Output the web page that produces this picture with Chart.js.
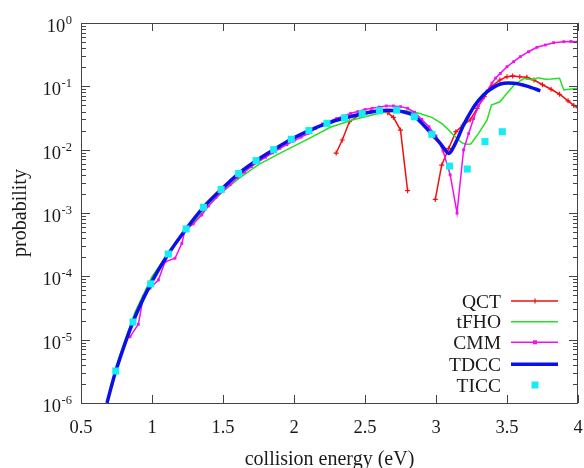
<!DOCTYPE html>
<html>
<head>
<meta charset="utf-8">
<script src="https://cdn.jsdelivr.net/npm/chart.js@4/dist/chart.umd.min.js"></script>
<style>
  html, body { margin: 0; padding: 0; background: #fff; }
  canvas { display: block; }
</style>
</head>
<body>
<canvas id="chart" width="584" height="468"></canvas>
<script>
const SERIF = '"Liberation Serif", "DejaVu Serif", serif';
const TEXT = '#1a1a1a';
const FRAME = '#444';

const COLORS = {
    QCT:  '#f01010',
    tFHO: '#22e022',
    CMM:  '#f010f0',
    TDCC: '#0a10e8',
    TICC: '#14eef2',
};

// tick values
const X_TICKS = [0.5, 1, 1.5, 2, 2.5, 3, 3.5, 4];
const Y_DECADES = [-6, -5, -4, -3, -2, -1, 0];

// QCT (null splits the two branches)
const qctE = [2.297, 2.34, 2.39, 2.46, 2.54, 2.61, 2.66, 2.70, 2.75, 2.80, 2.90,
    2.995, 3.04, 3.09, 3.14, 3.19, 3.24, 3.29, 3.34, 3.39, 3.45, 3.50, 3.54, 3.59,
    3.64, 3.69, 3.75, 3.81, 3.87, 3.93, 3.97, 4.0];
const qctP = [0.00885, 0.0142, 0.0277, 0.0353, 0.0398, 0.0423, 0.0384, 0.0324, 0.0204, 0.00225, null,
    0.00164, 0.0057, 0.0105, 0.0192, 0.0245, 0.0294, 0.045, 0.0686, 0.0986, 0.126, 0.142, 0.146, 0.142,
    0.139, 0.126, 0.106, 0.090, 0.075, 0.059, 0.050, 0.046];

// tFHO
const fhoE = [0.72, 0.75, 0.88, 1.0, 1.12, 1.25, 1.375, 1.5, 1.625, 1.75, 1.875, 2.0, 2.125,
    2.255, 2.41, 2.55, 2.65, 2.79, 2.88, 2.97, 3.04, 3.09, 3.11, 3.18, 3.21, 3.245, 3.30,
    3.36, 3.39, 3.45, 3.49, 3.55, 3.62, 3.68, 3.72, 3.77, 3.81, 3.87, 3.90, 3.94, 4.0];
const fhoP = [1.8e-6, 3.9e-6, 2.7e-5, 9.9e-5, 2.4e-4, 5.6e-4, 1.15e-3, 2.2e-3, 3.7e-3, 5.8e-3, 8.2e-3, 0.0114, 0.0158,
    0.0226, 0.0294, 0.0353, 0.0398, 0.0412, 0.0375, 0.0324, 0.026, 0.0204, 0.0181, 0.0129, 0.0122, 0.0123, 0.0181,
    0.0294, 0.0507, 0.057, 0.073, 0.105, 0.134, 0.126, 0.137, 0.129, 0.130, 0.134, 0.0875, 0.090, 0.093];

// CMM
const cmmE = [0.845, 0.904, 0.939, 0.986, 1.045, 1.092, 1.162, 1.21, 1.233, 1.29, 1.35, 1.397,
    1.45, 1.5, 1.55, 1.6, 1.65, 1.7, 1.75, 1.8, 1.85, 1.9, 1.95, 2.0, 2.05, 2.1, 2.15, 2.2,
    2.25, 2.3, 2.35, 2.4, 2.45, 2.5, 2.55, 2.6, 2.65, 2.7, 2.75, 2.8, 2.85, 2.9, 2.95, 3.0,
    3.05, 3.1, 3.148, 3.194, 3.23, 3.265, 3.3, 3.324, 3.36, 3.394, 3.42, 3.453, 3.5, 3.547,
    3.594, 3.652, 3.711, 3.77, 3.828, 3.9, 3.95, 4.0];
const cmmP = [1.11e-5, 1.75e-5, 4.8e-5, 6.5e-5, 8.75e-5, 1.7e-4, 1.93e-4, 3.3e-4, 5.4e-4, 6.7e-4, 9.3e-4, 1.29e-3,
    1.75e-3, 2.2e-3, 2.8e-3, 3.6e-3, 4.4e-3, 5.4e-3, 6.4e-3, 7.6e-3, 8.9e-3, 0.0105, 0.012, 0.0138, 0.0158, 0.018, 0.0215, 0.0255,
    0.028, 0.031, 0.034, 0.0375, 0.040, 0.043, 0.045, 0.047, 0.049, 0.049, 0.0478, 0.045, 0.039, 0.030, 0.023, 0.0165,
    0.0095, 0.004, 0.001, 0.0099, 0.018, 0.031, 0.050, 0.061, 0.085, 0.112, 0.135, 0.16, 0.204, 0.245,
    0.294, 0.352, 0.413, 0.45, 0.489, 0.507, 0.51, 0.507];

// TDCC
const tdccE = [0.683, 0.745, 0.866, 0.991, 1.115, 1.24, 1.362, 1.487, 1.61, 1.733, 1.857, 1.981,
    2.105, 2.232, 2.356, 2.48, 2.602, 2.66, 2.723, 2.78, 2.84, 2.912, 2.971, 3.03, 3.065, 3.088,
    3.112, 3.148, 3.194, 3.253, 3.30, 3.359, 3.453, 3.547, 3.641, 3.735];
const tdccP = [1.0e-6, 3.2e-6, 1.9e-5, 7.6e-5, 2.25e-4, 5.6e-4, 1.23e-3, 2.35e-3, 4.2e-3, 6.7e-3, 0.010, 0.0146,
    0.020, 0.026, 0.0316, 0.037, 0.0412, 0.0418, 0.041, 0.039, 0.035, 0.0245, 0.0175, 0.0126, 0.0099, 0.0087,
    0.0099, 0.0142, 0.0245, 0.0425, 0.060, 0.082, 0.109, 0.112, 0.101, 0.085];

// TICC
const ticcE = [0.745, 0.866, 0.991, 1.115, 1.24, 1.362, 1.487, 1.61, 1.733, 1.857, 1.981, 2.105,
    2.232, 2.356, 2.48, 2.602, 2.723, 2.847, 2.971, 3.095, 3.22, 3.345, 3.467];
const ticcP = [3.2e-6, 1.9e-5, 7.6e-5, 2.25e-4, 5.6e-4, 1.23e-3, 2.35e-3, 4.2e-3, 6.7e-3, 0.010, 0.0146, 0.020,
    0.026, 0.0316, 0.037, 0.0412, 0.042, 0.033, 0.0175, 0.0055, 0.00495, 0.0134, 0.0192];

const pts = (xs, ys) => xs.map((x, i) => ({ x, y: ys[i] }));

// frame, inside ticks, superscript y labels, legend
const decorPlugin = {
    id: 'decor',
    afterDraw(chart) {
        const ctx = chart.ctx;
        const a = chart.chartArea;
        const xs = chart.scales.x;
        const ys = chart.scales.y;
        ctx.save();
        ctx.strokeStyle = FRAME;
        ctx.lineWidth = 1;
        ctx.strokeRect(a.left + 0.5, a.top + 0.5, a.right - a.left - 1, a.bottom - a.top);

        ctx.beginPath();
        X_TICKS.forEach(v => {
            const px = Math.round(xs.getPixelForValue(v)) + 0.5;
            ctx.moveTo(px, a.bottom); ctx.lineTo(px, a.bottom - 8);
            ctx.moveTo(px, a.top); ctx.lineTo(px, a.top + 8);
        });
        Y_DECADES.forEach(k => {
            for (let m = 1; m <= 9; m++) {
                if (k === 0 && m > 1) break;
                const py = Math.round(ys.getPixelForValue(m * Math.pow(10, k))) + 0.5;
                const len = m === 1 ? 9 : 5;
                ctx.moveTo(a.left, py); ctx.lineTo(a.left + len, py);
                ctx.moveTo(a.right, py); ctx.lineTo(a.right - len, py);
            }
        });
        ctx.stroke();

        // y labels 10^k
        ctx.fillStyle = TEXT;
        ctx.textBaseline = 'alphabetic';
        ctx.textAlign = 'right';
        Y_DECADES.forEach(k => {
            const py = ys.getPixelForValue(Math.pow(10, k));
            const exp = String(k);
            ctx.font = '12.5px ' + SERIF;
            const ew = ctx.measureText(exp).width;
            ctx.fillText(exp, 72, py + 1);
            ctx.font = '18.5px ' + SERIF;
            ctx.fillText('10', 72 - ew - 0.5, py + 9);
        });

        // legend
        const items = [
            { label: 'QCT', y: 301, color: COLORS.QCT, w: 1.5, mark: 'cross' },
            { label: 'tFHO', y: 321.7, color: COLORS.tFHO, w: 1.5 },
            { label: 'CMM', y: 342.3, color: COLORS.CMM, w: 1.5, mark: 'dot' },
            { label: 'TDCC', y: 364.3, color: COLORS.TDCC, w: 3.5 },
            { label: 'TICC', y: 385, color: COLORS.TICC, mark: 'square', noLine: true },
        ];
        ctx.font = '19.5px ' + SERIF;
        items.forEach(it => {
            ctx.fillStyle = TEXT;
            ctx.textAlign = 'right';
            ctx.fillText(it.label, 501, it.y + 6.5);
            if (!it.noLine) {
                ctx.strokeStyle = it.color;
                ctx.lineWidth = it.w;
                ctx.beginPath();
                ctx.moveTo(511, it.y); ctx.lineTo(558, it.y);
                ctx.stroke();
            }
            if (it.mark === 'cross') {
                ctx.strokeStyle = it.color; ctx.lineWidth = 1.2;
                ctx.beginPath();
                ctx.moveTo(535, it.y - 2.5); ctx.lineTo(535, it.y + 2.5);
                ctx.stroke();
            } else if (it.mark === 'dot') {
                ctx.fillStyle = it.color;
                ctx.fillRect(533, it.y - 2, 4, 4);
            } else if (it.mark === 'square') {
                ctx.fillStyle = it.color;
                ctx.fillRect(531.5, it.y - 3.5, 7, 7);
            }
        });
        ctx.restore();
    },
};

new Chart(document.getElementById('chart'), {
    type: 'line',
    data: {
        datasets: [
            {
                label: 'QCT', data: pts(qctE, qctP), order: 4,
                borderColor: COLORS.QCT, backgroundColor: COLORS.QCT, borderWidth: 1.5,
                pointStyle: 'cross', pointRadius: 2.5, pointBorderWidth: 1.2, spanGaps: false,
            },
            {
                label: 'tFHO', data: pts(fhoE, fhoP), order: 3,
                borderColor: COLORS.tFHO, borderWidth: 1.5, pointRadius: 0,
            },
            {
                label: 'CMM', data: pts(cmmE, cmmP), order: 2,
                borderColor: COLORS.CMM, backgroundColor: COLORS.CMM, borderWidth: 1.5,
                pointStyle: 'rect', pointRadius: 2, pointBorderWidth: 0,
            },
            {
                label: 'TDCC', data: pts(tdccE, tdccP), order: 1,
                borderColor: COLORS.TDCC, borderWidth: 3.5, pointRadius: 0, tension: 0.3,
            },
            {
                label: 'TICC', data: pts(ticcE, ticcP), order: 0, showLine: false,
                backgroundColor: COLORS.TICC, borderWidth: 0,
                pointStyle: 'rect', pointRadius: 5, pointBorderWidth: 0,
            },
        ],
    },
    options: {
        responsive: false,
        animation: false,
        devicePixelRatio: 1,
        layout: { padding: { left: 0, top: 23, right: 6, bottom: 0 } },
        scales: {
            x: {
                type: 'linear', min: 0.5, max: 4,
                grid: { display: false },
                border: { display: false },
                ticks: {
                    stepSize: 0.5, color: TEXT, padding: 6,
                    font: { family: SERIF, size: 18.5 },
                    callback: v => String(v),
                },
                title: {
                    display: true, text: 'collision energy (eV)', color: TEXT,
                    font: { family: SERIF, size: 20 }, padding: { top: 4, bottom: -4 },
                },
                afterFit: s => { s.height = 65; s.paddingLeft = 0; s.paddingRight = 0; },
            },
            y: {
                type: 'logarithmic', min: 1e-6, max: 1,
                grid: { display: false },
                border: { display: false },
                ticks: { display: false },
                title: {
                    display: true, text: 'probability', color: TEXT,
                    font: { family: SERIF, size: 20 }, padding: { top: 9, bottom: 0 },
                },
                afterFit: s => { s.width = 81; s.paddingTop = 0; s.paddingBottom = 0; },
            },
        },
        plugins: {
            legend: { display: false },
            tooltip: { enabled: false },
        },
    },
    plugins: [decorPlugin],
});
</script>
</body>
</html>
